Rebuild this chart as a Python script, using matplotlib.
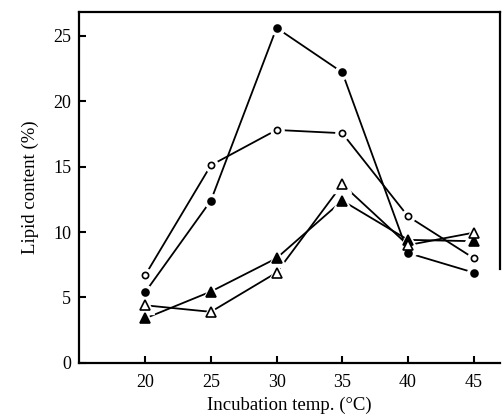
import matplotlib
matplotlib.use("Agg")
import matplotlib.pyplot as plt

temps = [20, 25, 30, 35, 40, 45]
filled_circle = [5.4, 12.4, 25.6, 22.2, 8.4, 6.9]
open_circle = [6.7, 15.1, 17.8, 17.55, 11.2, 8.0]
filled_tri = [3.4, 5.45, 8.0, 12.4, 9.4, 9.3]
open_tri = [4.4, 3.9, 6.9, 13.65, 9.0, 9.95]

xticks = [20, 25, 30, 35, 40, 45]
yticks = [0, 5, 10, 15, 20, 25]

plt.rcParams["font.family"] = ["Liberation Serif", "DejaVu Serif"]

fig = plt.figure(figsize=(5.03, 4.2), dpi=100)
ax = fig.add_axes([0.158, 0.136, 0.836, 0.835])

series = [
    (filled_circle, "o", "black", 5.0),
    (open_circle, "o", "white", 4.5),
    (filled_tri, "^", "black", 7.5),
    (open_tri, "^", "white", 7.5),
]

for vals, m, face, ms in series:
    ax.plot(temps, vals, color="black", lw=1.3, zorder=2)
for vals, m, face, ms in series:
    # white halo so lines stop short of the markers
    ax.plot(temps, vals, ls="none", marker=m, ms=ms + 5, mfc="white",
            mec="white", zorder=3)
for vals, m, face, ms in series:
    ax.plot(temps, vals, ls="none", marker=m, ms=ms, mfc=face,
            mec="black", mew=1.2, zorder=4)

ax.set_xlim(15, 47)
ax.set_ylim(0, 26.8)
ax.set_xticks(xticks)
ax.set_yticks(yticks)
ax.tick_params(direction="in", length=5, width=1.5, labelsize=13)
ax.tick_params(axis="x", pad=8)
ax.tick_params(axis="y", pad=6)
for s in ax.spines.values():
    s.set_linewidth(1.6)
ax.spines["right"].set_bounds(7.2, 26.8)

ax.set_xlabel("Incubation temp. (°C)", fontsize=13.5, labelpad=4)
ax.set_ylabel("Lipid content (%)", fontsize=13.5, labelpad=10)

plt.savefig("out.png", dpi=100)
plt.close()
